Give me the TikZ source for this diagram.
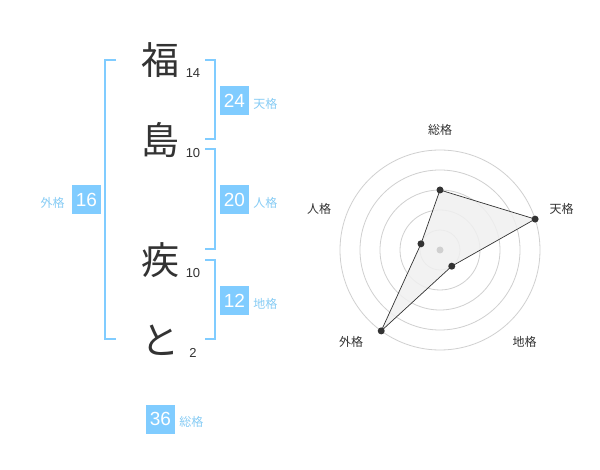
\documentclass[tikz,border=0pt]{standalone}
\usepackage{fontspec}
\setmainfont{Liberation Sans}
\newfontfamily\jpfont{Noto Sans CJK JP}
\usetikzlibrary{positioning,calc}
\definecolor{kakuBlue}{RGB}{128,204,255}
\definecolor{kakuText}{RGB}{135,204,245}
\definecolor{inkGray}{RGB}{51,51,51}
\definecolor{ringGray}{RGB}{208,208,208}
\definecolor{areaGray}{RGB}{240,240,240}
\tikzstyle{tChar} = [text=inkGray, font=\jpfont\fontsize{38}{38}\selectfont, inner sep=0pt]
\tikzstyle{tStroke} = [text=inkGray, font=\fontsize{13}{13}\selectfont, inner sep=0pt, anchor=base]
\tikzstyle{tBox} = [fill=kakuBlue, text=white, font=\fontsize{19}{19}\selectfont, minimum width=29pt, minimum height=29pt, inner sep=0pt]
\tikzstyle{tKaku} = [text=kakuText, font=\jpfont\fontsize{12}{12}\selectfont, inner sep=0pt]
\tikzstyle{tBracket} = [draw=kakuBlue, line width=2pt]
\tikzstyle{tAxis} = [text=inkGray, font=\jpfont\fontsize{12}{12}\selectfont, inner sep=0pt]
\tikzstyle{tDot} = [circle, fill=inkGray, inner sep=0pt, minimum size=7pt]

\begin{document}
\begin{tikzpicture}[x=1pt, y=-1pt]
        \useasboundingbox[fill=white] (0,0) rectangle (600,470);
        % name characters and stroke counts
        \node[tChar] (Fuku) at (160,60) {福};
        \node[tChar] (Shima) at (160,140) {島};
        \node[tChar] (Shitsu) at (160,260) {疾};
        \node[tChar] (To) at (160,340) {と};
        \node[tStroke] (nFuku) at (193,78) {14};
        \node[tStroke] (nShima) at (193,158) {10};
        \node[tStroke] (nShitsu) at (193,278) {10};
        \node[tStroke] (nTo) at (193,358) {2};
        % brackets
        \draw[tBracket] (116,60) -- (105,60) -- (105,339) -- (116,339);
        \draw[tBracket] (205,60) -- (215,60) -- (215,139) -- (205,139);
        \draw[tBracket] (205,149) -- (215,149) -- (215,249) -- (205,249);
        \draw[tBracket] (205,260) -- (215,260) -- (215,339) -- (205,339);
        % boxes with the five values
        \node[tBox] (Ten) at (234.5,100.5) {24};
        \node[tKaku] (TenLabel) [right=4pt of Ten, yshift=-3pt] {天格};
        \node[tBox] (Jin) at (234.5,200) {20};
        \node[tKaku] (JinLabel) [right=4pt of Jin, yshift=-3pt] {人格};
        \node[tBox] (Chi) at (234.5,300.5) {12};
        \node[tKaku] (ChiLabel) [right=4pt of Chi, yshift=-3pt] {地格};
        \node[tBox] (Gai) at (86.5,200) {16};
        \node[tKaku] (GaiLabel) [left=7pt of Gai, yshift=-3pt] {外格};
        \node[tBox] (Sou) at (160.5,419) {36};
        \node[tKaku] (SouLabel) [right=4pt of Sou, yshift=-3pt] {総格};
        % radar chart
        \coordinate (Center) at (440,250);
        \foreach \r in {20,40,60,80,100}
            \draw[ringGray, line width=0.8pt] (Center) circle (\r pt);
        \coordinate (pSou) at ($(Center)+(90:60pt)$);
        \coordinate (pTen) at ($(Center)+(18:100pt)$);
        \coordinate (pChi) at ($(Center)+(-54:20pt)$);
        \coordinate (pGai) at ($(Center)+(-126:100pt)$);
        \coordinate (pJin) at ($(Center)+(162:20pt)$);
        \filldraw[fill=areaGray, fill opacity=0.85, draw=inkGray, line width=0.7pt] (pSou) -- (pTen) -- (pChi) -- (pGai) -- (pJin) -- cycle;
        \node[circle, fill=ringGray, inner sep=0pt, minimum size=7pt] (CenterDot) at (Center) {};
        \foreach \p in {pSou,pTen,pChi,pGai,pJin}
            \node[tDot] at (\p) {};
        \node[tAxis] (aSou) at (440,130) {総格};
        \node[tAxis] (aTen) at (561.5,209) {天格};
        \node[tAxis] (aJin) at (319,209) {人格};
        \node[tAxis] (aGai) at (351,342) {外格};
        \node[tAxis] (aChi) at (524.5,342) {地格};
    \end{tikzpicture}
\end{document}
